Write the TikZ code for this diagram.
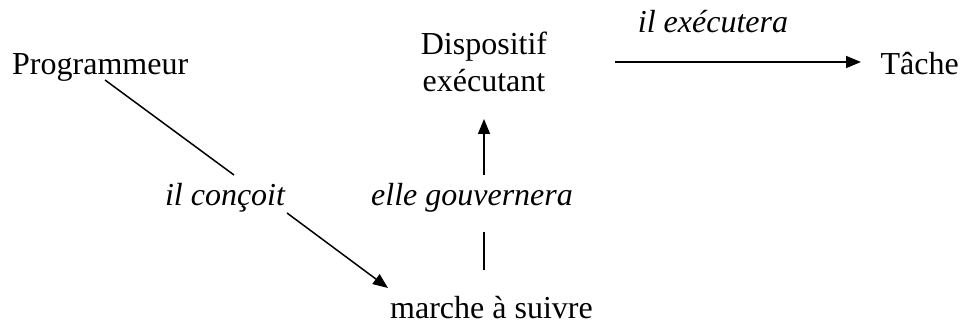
\documentclass[tikz,border=0pt]{standalone}
\usepackage{fontspec}
\setmainfont{Liberation Serif}
\usetikzlibrary{positioning, calc, arrows.meta}

\begin{document}
\begin{tikzpicture}[
    x=1pt, y=-1pt,
    txt/.style={font=\fontsize{32}{37}\selectfont, inner sep=0pt, align=center},
    lbl/.style={font=\fontsize{32}{37}\selectfont\itshape, inner sep=0pt},
    conn/.style={line width=1.5pt},
    arr/.style={line width=1.5pt, -{Triangle[length=15pt, width=12pt]}}
]
    \useasboundingbox (0, 0) rectangle (963, 323);

    % =========================================================================
    % MAIN TERMS
    % =========================================================================
    \node[txt, anchor=base west] (prog) at (12, 75) {Programmeur};
    \node[txt, anchor=base] (disp) at (484, 92) {Dispositif\\exécutant};
    \node[txt, anchor=base east] (tache) at (959, 75) {Tâche};
    \node[txt, anchor=base west] (marche) at (390, 318) {marche à suivre};

    % =========================================================================
    % CONNECTORS AND THEIR LABELS
    % =========================================================================
    % Programmeur -> marche a suivre
    \coordinate (c1a) at (105, 80);
    \coordinate (c1b) at (234, 175);
    \coordinate (c1c) at (287, 213);
    \coordinate (c1d) at (388, 288);
    \draw[conn] (c1a) -- (c1b);
    \draw[arr] (c1c) -- (c1d);
    \node[lbl, anchor=base] (concoit) at (225, 205) {il conçoit};

    % marche a suivre -> Dispositif
    \coordinate (c2a) at (484, 270);
    \coordinate (c2b) at (484, 232);
    \coordinate (c2c) at (484, 175);
    \coordinate (c2d) at (484, 119);
    \draw[conn] (c2a) -- (c2b);
    \draw[arr] (c2c) -- (c2d);
    \node[lbl, anchor=base] (gouv) at (472, 205) {elle gouvernera};

    % Dispositif -> Tache
    \coordinate (c3a) at (615, 62);
    \coordinate (c3b) at (861, 62);
    \draw[arr] (c3a) -- (c3b);
    \node[lbl, anchor=base] (exec) at (713, 33) {il exécutera};

\end{tikzpicture}
\end{document}
